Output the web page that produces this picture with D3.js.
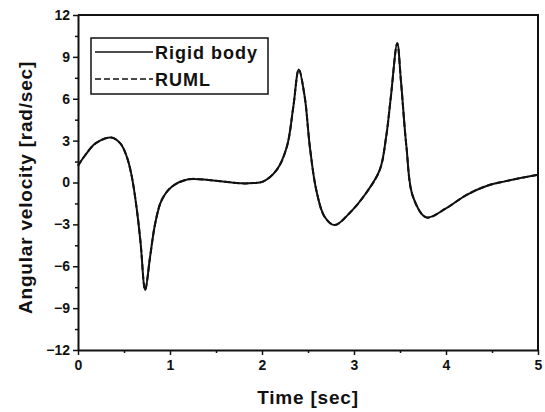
<!DOCTYPE html>
<html>
<head>
<meta charset="utf-8">
<script src="https://cdn.jsdelivr.net/npm/d3@7"></script>
<style>
  body { margin: 0; background: #fff; }
  text { font-family: "Liberation Sans", Arial, sans-serif; font-weight: bold; fill: #111; }
</style>
</head>
<body>
<div id="chart"></div>
<script>
// time [sec] and angular velocity [rad/sec]
const timeValues = [0, 0.08, 0.19, 0.36, 0.46, 0.53, 0.585, 0.64, 0.68, 0.73, 0.784, 0.84, 0.91, 1.02, 1.2, 1.42, 1.6, 1.78, 1.9, 2.01,
  2.16, 2.27, 2.34, 2.40, 2.465, 2.52, 2.59, 2.68, 2.79, 2.95, 3.13, 3.28, 3.35, 3.40, 3.47, 3.51, 3.57, 3.64, 3.785,
  4.0, 4.22, 4.44, 4.65, 5.0];
const rigidBody = [1.2, 1.97, 2.8, 3.22, 2.8, 1.85, 0.42, -1.97, -4.3, -7.7, -5.3, -2.9, -1.25, -0.3, 0.23, 0.18, 0.05, -0.06, -0.04, 0.06,
  0.9, 2.56, 5.4, 8.1, 6.1, 2.56, -0.54, -2.45, -3.05, -2.2, -0.77, 0.9, 3.3, 6.1, 9.97, 7.3, 2.56, -1.0, -2.5,
  -1.85, -0.9, -0.25, 0.1, 0.55];
const ruml = rigidBody.slice();
const xTicks = [0, 1, 2, 3, 4, 5];
const yTicks = [-12, -9, -6, -3, 0, 3, 6, 9, 12];
const legendLabels = ['Rigid body', 'RUML'];

const width = 545, height = 412;
const margin = { top: 15, right: 7, bottom: 62, left: 78 };

const svg = d3.select('#chart').append('svg')
  .attr('width', width)
  .attr('height', height);

const x = d3.scaleLinear().domain([0, 5]).range([margin.left, width - margin.right]);
const y = d3.scaleLinear().domain([-12, 12]).range([height - margin.bottom, margin.top]);

// minor ticks
const xMinor = d3.range(0, 5.01, 0.5).filter((d) => !xTicks.includes(d));
const yMinor = d3.range(-12, 12.01, 1.5).filter((d) => !yTicks.includes(d));

svg.append('g')
  .attr('transform', `translate(0,${y(-12)})`)
  .call(d3.axisBottom(x).tickValues(xMinor).tickSize(3).tickFormat(''))
  .call((g) => g.select('.domain').remove());
svg.append('g')
  .attr('transform', `translate(${x(0)},0)`)
  .call(d3.axisLeft(y).tickValues(yMinor).tickSize(3).tickFormat(''))
  .call((g) => g.select('.domain').remove());

const xAxis = svg.append('g')
  .attr('transform', `translate(0,${y(-12)})`)
  .call(d3.axisBottom(x).tickValues(xTicks).tickSize(5).tickSizeOuter(0).tickPadding(5).tickFormat(d3.format('d')));
const yAxis = svg.append('g')
  .attr('transform', `translate(${x(0)},0)`)
  .call(d3.axisLeft(y).tickValues(yTicks).tickSize(5).tickSizeOuter(0).tickPadding(3).tickFormat(d3.format('d')));

[xAxis, yAxis].forEach((g) => {
  g.selectAll('text').style('font-size', '14px').style('font-family', '"Liberation Sans", Arial, sans-serif')
    .style('font-weight', 'bold').attr('fill', '#111');
  g.select('.domain').attr('stroke', '#111').attr('stroke-width', 2);
});
svg.selectAll('.tick line').attr('stroke', '#111').attr('stroke-width', 1.5);

// top and right frame
svg.append('path')
  .attr('d', `M${x(0)},${y(12)}H${x(5)}V${y(-12)}`)
  .attr('fill', 'none')
  .attr('stroke', '#111')
  .attr('stroke-width', 2);

// curves
const data = timeValues.map((t, i) => ({ t, a: rigidBody[i], b: ruml[i] }));
const line = (key) => d3.line()
  .x((d) => x(d.t))
  .y((d) => y(d[key]))
  .curve(d3.curveCatmullRom.alpha(0.5));

svg.append('path')
  .datum(data)
  .attr('d', line('a'))
  .attr('fill', 'none')
  .attr('stroke', '#111')
  .attr('stroke-width', 2);
svg.append('path')
  .datum(data)
  .attr('d', line('b'))
  .attr('fill', 'none')
  .attr('stroke', '#111')
  .attr('stroke-width', 2)
  .attr('stroke-dasharray', '6,3');

// legend
const legend = svg.append('g').attr('transform', 'translate(91,38)');
legend.append('rect')
  .attr('width', 177)
  .attr('height', 56)
  .attr('fill', '#fff')
  .attr('stroke', '#111')
  .attr('stroke-width', 1.5);
const items = legend.selectAll('.legend-item')
  .data(legendLabels)
  .enter()
  .append('g')
  .attr('class', 'legend-item')
  .attr('transform', (d, i) => `translate(0,${14 + i * 27})`);
items.append('line')
  .attr('x1', 4)
  .attr('x2', 62)
  .attr('stroke', '#111')
  .attr('stroke-width', 1.5)
  .attr('stroke-dasharray', (d, i) => (i === 0 ? null : '6,3'));
items.append('text')
  .attr('x', 64)
  .attr('y', 7)
  .style('font-size', '18px')
  .style('letter-spacing', '1px')
  .text((d) => d);

// axis titles
svg.append('text')
  .attr('x', (x(0) + x(5)) / 2)
  .attr('y', 404)
  .attr('text-anchor', 'middle')
  .style('font-size', '19px')
  .style('letter-spacing', '0.8px')
  .text('Time [sec]');
svg.append('text')
  .attr('transform', `translate(32,${y(0) + 5}) rotate(-90)`)
  .attr('text-anchor', 'middle')
  .style('font-size', '19px')
  .style('letter-spacing', '0.8px')
  .text('Angular velocity [rad/sec]');
</script>
</body>
</html>
